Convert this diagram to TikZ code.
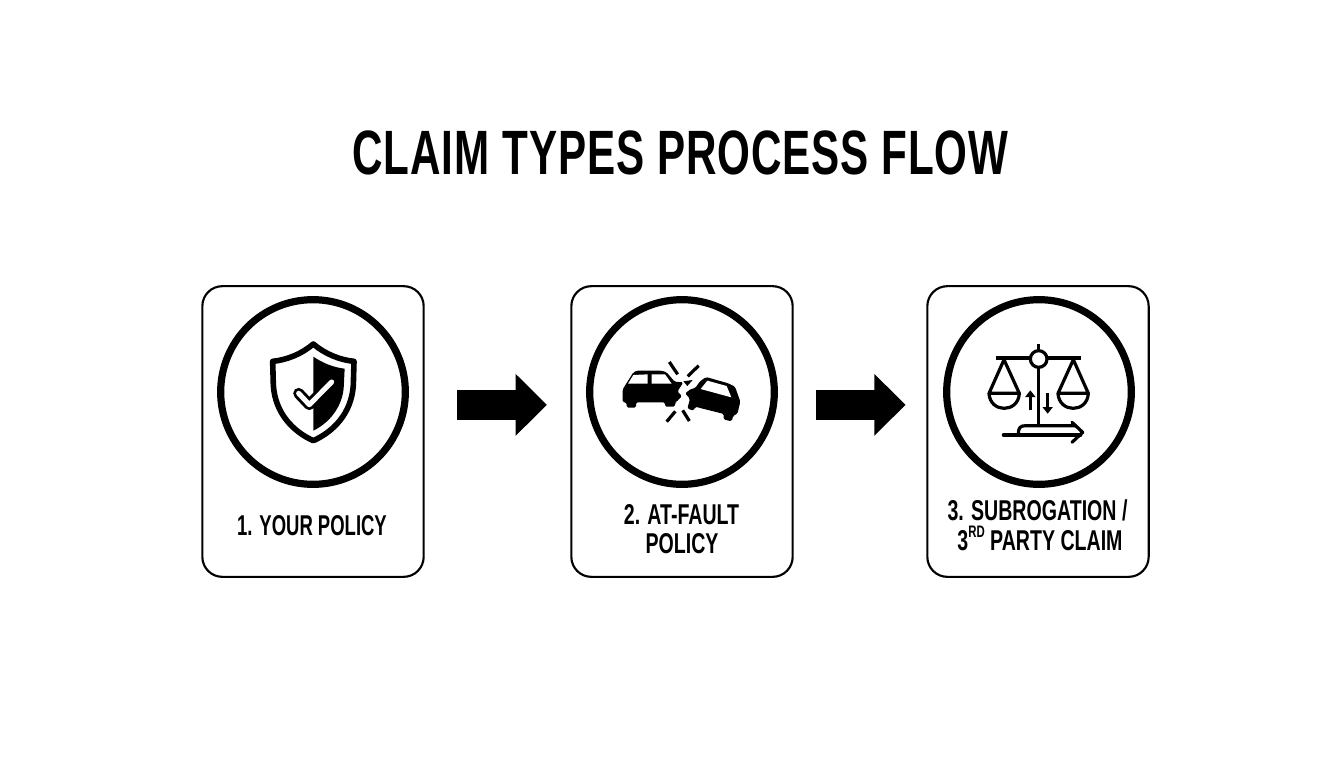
\documentclass[tikz,border=0pt]{standalone}
\usepackage{fontspec}
\usetikzlibrary{arrows.meta}
\newfontfamily\titlefont[FakeStretch=0.673,LetterSpace=1.5]{Liberation Sans Bold}
\newfontfamily\labelfont[FakeStretch=0.645]{Liberation Sans Bold}
\newfontfamily\labelwide[FakeStretch=0.683]{Liberation Sans Bold}
\tikzset{
  card/.style={draw=black,line width=1.6pt,rounded corners=15pt,minimum width=166pt,minimum height=218pt,inner sep=0pt,fill=white},
  ring/.style={draw=black,line width=5.4pt,circle,minimum size=138.5pt,inner sep=0pt},
  lbl/.style={font=\labelfont\fontsize{21.5pt}{26pt}\selectfont,anchor=base,inner sep=0pt,text=black},
  lblw/.style={font=\labelwide\fontsize{21.5pt}{26pt}\selectfont,anchor=base,inner sep=0pt,text=black},
  flow/.style={line width=22.5pt,-{Triangle[length=23.5pt,width=45pt]}},
  thin icon/.style={line width=2.4pt,line cap=round,line join=round}
}
\begin{document}
\begin{tikzpicture}[x=0.75pt,y=-0.75pt]
\useasboundingbox (0,0) rectangle (1344,768);
\node[font=\titlefont\fontsize{47pt}{56pt}\selectfont,anchor=base,inner sep=0pt] (title) at (680.5,174.5) {CLAIM TYPES PROCESS FLOW};
\node[card] (box1) at (313,431.5) {};
\node[card] (box2) at (682,431.5) {};
\node[card] (box3) at (1038,431.5) {};
\node[ring] (ring1) at (313,392) {};
\node[ring] (ring2) at (682,392) {};
\node[ring] (ring3) at (1039,392) {};
\node[lbl] (l1) at (312,535) {1. YOUR POLICY};
\node[lblw] (l2a) at (681.5,524) {2. AT-FAULT};
\node[lblw] (l2b) at (682,553) {POLICY};
\node[lblw] (l3a) at (1037.5,520) {3. SUBROGATION /};
\node[lblw] (l3b) at (1040,550) {3\raisebox{0.42em}{\fontsize{12.5pt}{14pt}\selectfont RD} PARTY CLAIM};
\draw[flow,shorten <=24.5pt,shorten >=17.5pt] ([yshift=20pt]box1.east) -- ([yshift=20pt]box2.west);
\draw[flow,shorten <=16.5pt,shorten >=15.5pt] ([yshift=20pt]box2.east) -- ([yshift=20pt]box3.west);
% shield
\begin{scope}[shift={(250,330)},x=0.25pt,y=-0.25pt]
\draw[line width=4.2pt,line join=round,fill=white] (190,42) .. controls (155,72) and (110,90) .. (68,94)
  -- (70,165) .. controls (75,250) and (130,305) .. (190,332)
  .. controls (250,305) and (305,250) .. (310,165) -- (312,94)
  .. controls (270,90) and (225,72) .. (190,42) -- cycle;
\fill (190,80) .. controls (220,100) and (250,112) .. (284,116) -- (281,175)
  .. controls (275,235) and (235,280) .. (190,302) -- cycle;
\draw[line width=8.2pt,line cap=round,line join=round] (146,190) -- (178,224) -- (245,156);
\draw[white,line width=3.8pt,line cap=round,line join=round] (146,190) -- (178,224) -- (245,156);
\end{scope}
% cars
\begin{scope}[shift={(600,340)},x=0.25pt,y=-0.25pt]
\fill[rounded corners=1.2pt] (68,187) -- (68,148) -- (78,132) -- (100,97) -- (110,92) -- (185,92) -- (200,97) -- (224,125) -- (250,127) -- (232,155) -- (246,168) -- (228,187) -- (225,187) -- (225,200) -- (195,200) -- (195,187) -- (108,187) -- (108,203) -- (80,203) -- (80,187) -- cycle;
\fill[white] (84,131) -- (100,105) -- (143,103) -- (143,131) -- cycle;
\fill[white] (155,103) -- (195,103) -- (215,131) -- (155,131) -- cycle;
\fill[rounded corners=1.2pt] (318,111) -- (385,130) -- (405,140) -- (421,185) -- (412,222) -- (400,226) -- (395,244) -- (370,238) -- (372,222) -- (285,200) -- (282,212) -- (262,206) -- (270,176) -- (255,160) -- (274,146) -- (285,145) -- (300,124) -- cycle;
\fill[white] (322,122) -- (380,138) -- (394,172) -- (302,147) -- cycle;
\fill (250,124) -- (278,120) -- (262,138) -- cycle;
\draw[thin icon,line cap=butt] (208,66) -- (233,103);
\draw[thin icon,line cap=butt] (296,77) -- (263,109);
\draw[thin icon,line cap=butt] (200,245) -- (226,214);
\draw[thin icon,line cap=butt] (268,243) -- (248,211);
\end{scope}
% scales
\begin{scope}[shift={(970,335)},x=0.25pt,y=-0.25pt]
\draw[thin icon,line cap=butt] (206,28) -- (206,50);
\draw[thin icon,line width=2.8pt,line cap=butt] (78,70) -- (180,70) (232,70) -- (333,70);
\draw[thin icon] (206,72) circle (25);
\draw[thin icon,line cap=butt] (206,97) -- (206,272);
\draw[thin icon] (102,74) -- (57,175) -- (148,175) -- cycle;
\draw[thin icon] (57,175) .. controls (60,235) and (145,235) .. (148,175);
\draw[thin icon] (310,74) -- (264,175) -- (355,175) -- cycle;
\draw[thin icon] (264,175) .. controls (267,235) and (352,235) .. (355,175);
\draw[thin icon,-{Triangle[length=5pt,width=7.5pt]},line cap=butt] (181,226) -- (181,166);
\draw[thin icon,-{Triangle[length=5pt,width=7.5pt]},line cap=butt] (233,174) -- (233,236);
\draw[thin icon] (100,300) -- (332,300);
\draw[thin icon] (145,298) .. controls (145,278) and (150,272) .. (168,272) -- (318,272);
\draw[thin icon] (306,262) -- (338,292) -- (306,322);
\end{scope}
\end{tikzpicture}
\end{document}
